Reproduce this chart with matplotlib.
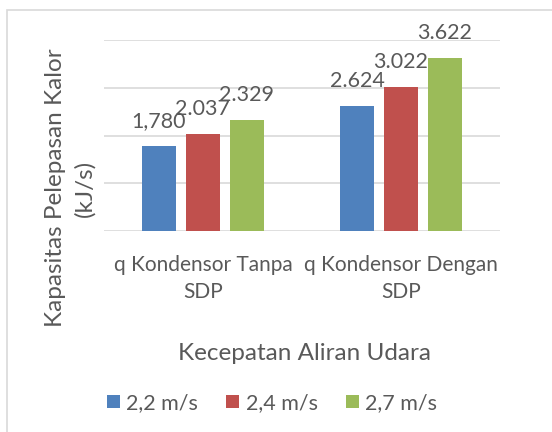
import numpy as np
import matplotlib.pyplot as plt
from matplotlib.patches import Rectangle, Patch

plt.rcParams['font.family'] = ['Lato', 'DejaVu Sans']

categories = ["q Kondensor Tanpa\nSDP", "q Kondensor Dengan\nSDP"]
series = ["2,2 m/s", "2,4 m/s", "2,7 m/s"]
v_22 = [1.780, 2.624]
v_24 = [2.037, 3.022]
v_27 = [2.329, 3.622]
labels_22 = ["1,780", "2.624"]
labels_24 = ["2.037", "3.022"]
labels_27 = ["2.329", "3.622"]

colors = ["#4F81BD", "#C0504D", "#9BBB59"]
txt = "#595959"

fig = plt.figure(figsize=(5.52, 4.32), dpi=100)
# chart frame (cropped on the right and bottom)
fig.patches.append(Rectangle((7/552, -0.1), 1.1, (432-10)/432 + 0.1,
                             transform=fig.transFigure, fill=False,
                             edgecolor="#D9D9D9", linewidth=1.2))

ax = fig.add_axes([104/552, 1-231/432, 396/552, 191/432])

x = np.arange(len(categories))
w = 0.172
step = 0.222
for k, (vals, labs) in enumerate([(v_22, labels_22), (v_24, labels_24), (v_27, labels_27)]):
    pos = x + (k - 1) * step
    ax.bar(pos, vals, width=w, color=colors[k], zorder=3)
    for p, v, s in zip(pos, vals, labs):
        ax.annotate(s, xy=(p, v), xytext=(0, 18), textcoords="offset points",
                    ha="center", va="center", fontsize=15.5, color=txt)

ax.set_xlim(-0.5, 1.5)
ax.set_ylim(0, 4)
ax.set_yticks([0, 1, 2, 3, 4])
ax.set_yticklabels([])
ax.tick_params(axis="y", length=0)
ax.grid(axis="y", color="#D9D9D9", linewidth=1.2, zorder=0)
for s in ax.spines.values():
    s.set_visible(False)
ax.set_xticks(x)
ax.set_xticklabels(categories, fontsize=15, color=txt, linespacing=1.45)
ax.tick_params(axis="x", length=0, pad=17)

fig.text(70/552, 1-188/432, "Kapasitas Pelepasan Kalor\n(kJ/s)", rotation=90,
         ha="center", va="center", multialignment="center",
         fontsize=17.5, color=txt, linespacing=1.45)
fig.text(305/552, 1-353/432, "Kecepatan Aliran Udara", ha="center", va="center",
         fontsize=17.5, color=txt)

handles = [Patch(facecolor=c, edgecolor="none") for c in colors]
leg = fig.legend(handles, series, loc="center", bbox_to_anchor=(272/552, 1-403/432),
                 ncol=3, frameon=False, fontsize=15.5, handlelength=0.6, handleheight=0.6,
                 handletextpad=0.3, columnspacing=1.3)
for t in leg.get_texts():
    t.set_color(txt)

fig.savefig("out.png", dpi=100)
